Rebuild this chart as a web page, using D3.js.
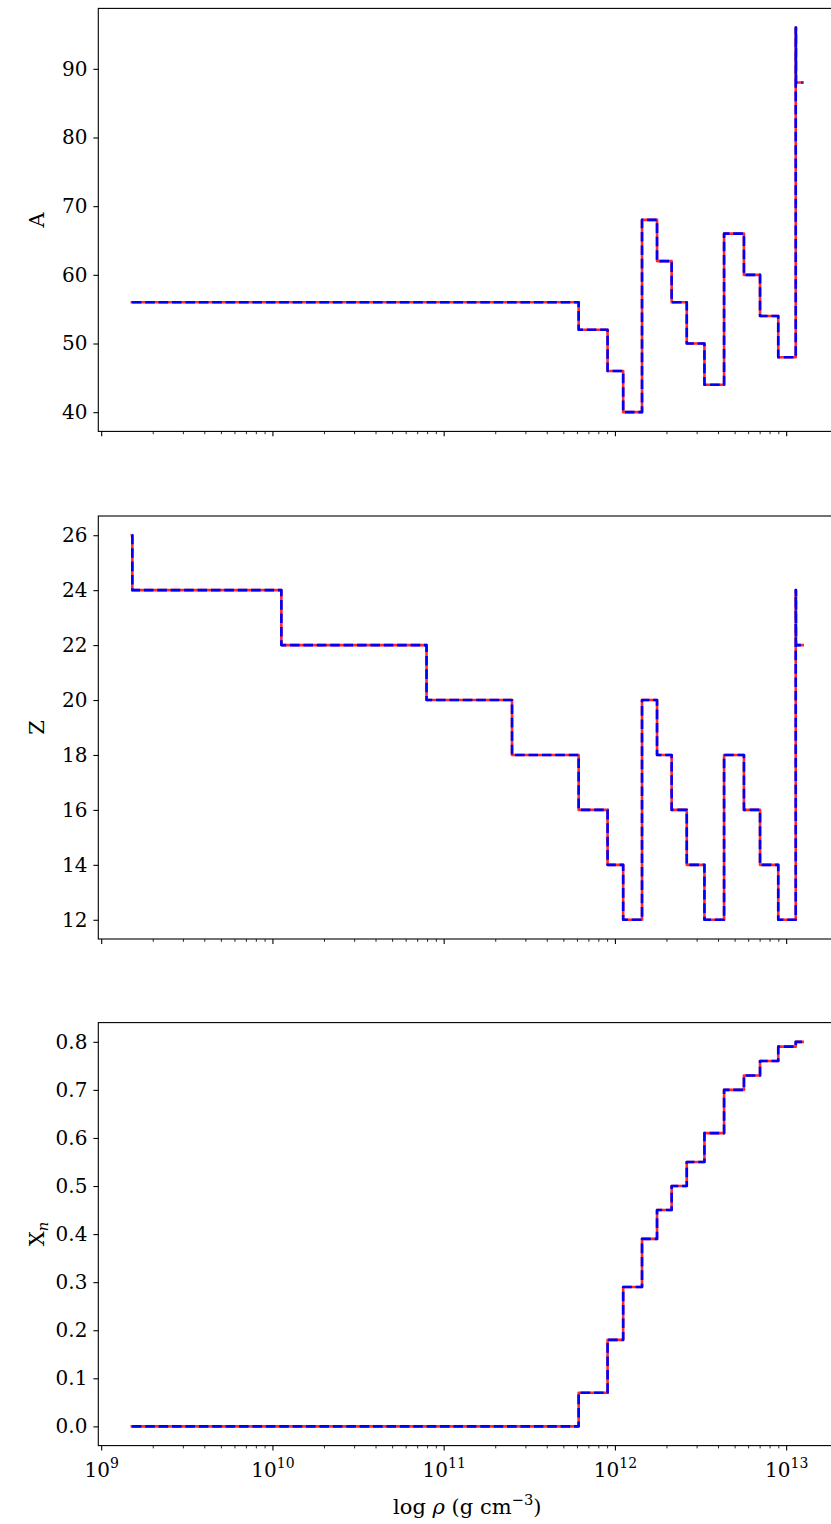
<!DOCTYPE html>
<html>
<head>
<meta charset="utf-8">
<script src="https://cdn.jsdelivr.net/npm/d3@7"></script>
<style>
  html, body { margin: 0; padding: 0; background: #fff; }
  svg { display: block; }
  text { font-family: "DejaVu Serif", serif; fill: #000; }
</style>
</head>
<body>
<svg id="chart" width="831" height="1524"></svg>
<script>
// ---- data ----
// start density of each step segment (g cm^-3); last entry is the end of the last segment
const rho = [1.5e9, 1.51e9, 1.12e10, 7.89e10, 2.49e11, 6.1e11, 9.0e11, 1.11e12, 1.43e12,
             1.75e12, 2.13e12, 2.61e12, 3.31e12, 4.31e12, 5.63e12, 6.99e12, 8.93e12,
             1.13e13, 1.133e13, 1.24e13];
const massA = [56, 56, 56, 56, 56, 52, 46, 40, 68, 62, 56, 50, 44, 66, 60, 54, 48, 96, 88, 88];
const chargeZ = [26, 24, 22, 20, 18, 16, 14, 12, 20, 18, 16, 14, 12, 18, 16, 14, 12, 24, 22, 22];
const neutronX = [0, 0, 0, 0, 0, 0.07, 0.18, 0.29, 0.39, 0.45, 0.50, 0.55, 0.61, 0.70, 0.73,
                  0.76, 0.79, 0.80, 0.80, 0.80];

const ticksA = [40, 50, 60, 70, 80, 90];
const ticksZ = [12, 14, 16, 18, 20, 22, 24, 26];
const ticksX = [0.0, 0.1, 0.2, 0.3, 0.4, 0.5, 0.6, 0.7, 0.8];
const xMajorExps = [9, 10, 11, 12, 13];

// ---- layout ----
const svg = d3.select("#chart");
const left = 98.3, right = 836.2;
const panelTop = [8.4, 516, 1022.6];
const panelH = 423;

const lx = d3.extent(rho).map(Math.log10);
const mx = (lx[1] - lx[0]) * 0.05;
const x = d3.scaleLog().domain([10 ** (lx[0] - mx), 10 ** (lx[1] + mx)]).range([left, right]);

const panels = [
  { values: massA, ticks: ticksA, label: "A", fmt: d3.format("d") },
  { values: chargeZ, ticks: ticksZ, label: "Z", fmt: d3.format("d") },
  { values: neutronX, ticks: ticksX, label: "Xn", fmt: d3.format(".1f") }
];

const tickFont = 20;
const labelFont = 21;

panels.forEach((p, i) => {
  const top = panelTop[i], bottom = top + panelH;
  const ext = d3.extent(p.values);
  const m = (ext[1] - ext[0]) * 0.05;
  const y = d3.scaleLinear().domain([ext[0] - m, ext[1] + m]).range([bottom, top]);
  const g = svg.append("g");

  // lines
  const pts = rho.map((r, k) => [r, p.values[k]]);
  const line = d3.line().x(d => x(d[0])).y(d => y(d[1])).curve(d3.curveStepAfter);
  g.append("path").attr("d", line(pts)).attr("fill", "none")
    .attr("stroke", "#ff2a2a").attr("stroke-width", 2.6)
    .attr("stroke-linecap", "square").attr("stroke-linejoin", "round");
  g.append("path").attr("d", line(pts)).attr("fill", "none")
    .attr("stroke", "#0000ff").attr("stroke-width", 2.6)
    .attr("stroke-dasharray", "9.6,3.8").attr("stroke-linejoin", "round");

  // spines
  g.append("rect").attr("x", left).attr("y", top).attr("width", right - left).attr("height", panelH)
    .attr("fill", "none").attr("stroke", "#000").attr("stroke-width", 1.1);

  // y axis ticks
  const yAxis = d3.axisLeft(y).tickValues(p.ticks).tickFormat(p.fmt)
    .tickSize(4.9).tickPadding(6);
  const ya = g.append("g").attr("transform", `translate(${left},0)`).call(yAxis);
  ya.select(".domain").remove();
  ya.selectAll(".tick line").attr("stroke", "#000").attr("stroke-width", 1.1);
  ya.selectAll(".tick text").attr("font-family", "DejaVu Serif").attr("font-size", tickFont)
    .attr("fill", "#000");

  // x axis ticks (major + minor)
  const majors = xMajorExps.map(e => 10 ** e);
  const [d0, d1] = x.domain();
  const minors = [];
  for (let e = 8; e <= 13; e++) for (let k = 2; k <= 9; k++) {
    const v = k * 10 ** e;
    if (v >= d0 && v <= d1) minors.push(v);
  }
  const xa = g.append("g").attr("transform", `translate(0,${bottom})`);
  xa.selectAll("line.maj").data(majors).join("line").attr("class", "maj")
    .attr("x1", d => x(d)).attr("x2", d => x(d)).attr("y1", 0).attr("y2", 4.9)
    .attr("stroke", "#000").attr("stroke-width", 1.1);
  xa.selectAll("line.min").data(minors).join("line").attr("class", "min")
    .attr("x1", d => x(d)).attr("x2", d => x(d)).attr("y1", 0).attr("y2", 2.8)
    .attr("stroke", "#000").attr("stroke-width", 0.85);

  if (i === 2) {
    const lab = xa.selectAll("text.xt").data(xMajorExps).join("text").attr("class", "xt")
      .attr("x", e => x(10 ** e)).attr("y", 31).attr("text-anchor", "middle")
      .attr("font-size", tickFont);
    lab.append("tspan").text("10");
    lab.append("tspan").attr("dy", -9).attr("font-size", 14).text(e => e);

    const xl = svg.append("text").attr("x", (left + right) / 2).attr("y", 1514)
      .attr("text-anchor", "middle").attr("font-size", labelFont);
    xl.append("tspan").text("log ");
    xl.append("tspan").attr("font-style", "italic").text("ρ");
    xl.append("tspan").text(" (g cm");
    xl.append("tspan").attr("dy", -9).attr("font-size", 14.7).text("−3");
    xl.append("tspan").attr("dy", 9).text(")");
  }

  // y label
  const yl = svg.append("text")
    .attr("transform", `translate(44,${(top + bottom) / 2}) rotate(-90)`)
    .attr("text-anchor", "middle").attr("font-size", labelFont);
  if (p.label === "Xn") {
    yl.append("tspan").text("X");
    yl.append("tspan").attr("dy", 4).attr("font-size", 14.7).attr("font-style", "italic").text("n");
  } else {
    yl.text(p.label);
  }
});
</script>
</body>
</html>
